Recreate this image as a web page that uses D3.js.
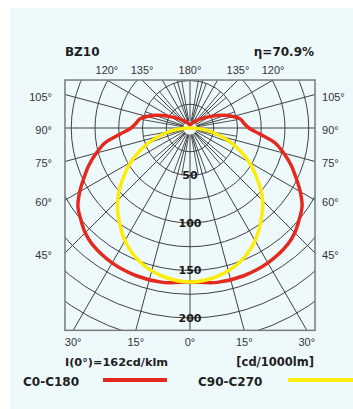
<!DOCTYPE html>
<html>
<head>
<meta charset="utf-8">
<script src="https://cdn.jsdelivr.net/npm/d3@7"></script>
<style>
  body { margin: 0; background: #fff; }
  svg { display: block; }
</style>
</head>
<body>
<svg id="chart" width="353" height="409"></svg>
<script>
// Luminous intensity distribution, cd/klm, by angle from nadir (degrees)
const redAngles = [0, 10, 20, 30, 40, 45, 50, 55, 60, 65, 70, 75, 80, 85, 90, 95, 100, 105, 110, 115, 120, 130, 140, 150, 160, 170, 180];
const redC0C180 = [162, 165, 165.5, 164, 160, 156, 150, 144, 134, 123, 113, 102, 91, 74, 62, 57, 54, 47, 39, 31, 24, 15, 10, 7, 5, 4, 3];
const yellowAngles = [0, 10, 20, 30, 40, 45, 50, 60, 70, 80, 85, 90];
const yellowC90C270 = [162, 159, 151, 137, 118, 108, 96, 72, 47, 23, 11, 0];

// Grid and labels
const ringValues = [25, 50, 75, 100, 125, 150, 175, 200, 225, 250];
const ringLabels = [50, 100, 150, 200];
const topAngleLabels = [120, 135, 180];
const sideAngleLabels = [105, 90, 75, 60, 45];
const bottomAngleLabels = [30, 15, 0];
const legendNames = ["C0-C180", "C90-C270"];
const titleLeft = "BZ10";
const titleRight = "\u03B7=70.9%";
const noteLeft = "I(0\u00B0)=162cd/klm";
const noteRight = "[cd/1000lm]";

const svg = d3.select("#chart");
const cx = 190, cy = 128;
const r = d3.scaleLinear().domain([0, 200]).range([0, 190]);

// frame extents in cd/klm units
const frameHalf = 131.6, frameTop = 50.5, frameBottom = 213;
const fx0 = cx - r(frameHalf), fx1 = cx + r(frameHalf);
const fy0 = cy - r(frameTop), fy1 = cy + r(frameBottom);

// background panel
svg.append("rect").attr("x", 10).attr("y", 8).attr("width", 343).attr("height", 401)
  .attr("fill", "#eef9fc");

svg.append("clipPath").attr("id", "frameClip")
  .append("rect").attr("x", fx0).attr("y", fy0).attr("width", fx1 - fx0).attr("height", fy1 - fy0);

const grid = svg.append("g").attr("clip-path", "url(#frameClip)")
  .append("g").attr("transform", `translate(${cx},${cy})`);

const rad = d => d * Math.PI / 180;
// angle from nadir -> screen vector
const px = (deg, v) => r(v) * Math.sin(rad(deg));
const py = (deg, v) => r(v) * Math.cos(rad(deg));

const gridColor = "#404040";

// rings
grid.selectAll("circle.ring").data(ringValues).join("circle")
  .attr("class", "ring").attr("r", d => r(d))
  .attr("fill", "none").attr("stroke", gridColor).attr("stroke-width", 1);

// radial lines: full every 15 deg, a finer 10 deg fan inside the 50 ring
const full = d3.range(0, 360, 15);
const fine = d3.range(0, 360, 10).filter(d => d % 15 !== 0);
grid.selectAll("line.full").data(full).join("line")
  .attr("x1", d => px(d, 7)).attr("y1", d => py(d, 7))
  .attr("x2", d => px(d, 300)).attr("y2", d => py(d, 300))
  .attr("stroke", gridColor).attr("stroke-width", 1);
grid.selectAll("line.fine").data(fine).join("line")
  .attr("x1", d => px(d, 7)).attr("y1", d => py(d, 7))
  .attr("x2", d => px(d, 50)).attr("y2", d => py(d, 50))
  .attr("stroke", gridColor).attr("stroke-width", 0.9);

// frame
svg.append("rect").attr("x", fx0).attr("y", fy0).attr("width", fx1 - fx0).attr("height", fy1 - fy0)
  .attr("fill", "none").attr("stroke", "#7a7a7a").attr("stroke-width", 1.5);

// ring labels
svg.selectAll("text.ring").data(ringLabels).join("text")
  .attr("x", cx).attr("y", d => cy + r(d)).attr("dy", "0.36em")
  .attr("text-anchor", "middle").attr("font-family", "DejaVu Sans").attr("font-weight", "bold")
  .attr("font-size", 11).attr("fill", "#1a1a1a").text(d => d);

// curves
const radial = d3.lineRadial().curve(d3.curveCatmullRomClosed.alpha(0.5))
  .angle(d => Math.PI - rad(d[0])).radius(d => r(d[1]));

const redPts = [];
for (let i = redAngles.length - 1; i > 0; i--) redPts.push([-redAngles[i], redC0C180[i]]);
for (let i = 0; i < redAngles.length - 1; i++) redPts.push([redAngles[i], redC0C180[i]]);

const yPts = [];
for (let i = yellowAngles.length - 1; i > 0; i--) yPts.push([-yellowAngles[i], yellowC90C270[i]]);
for (let i = 0; i < yellowAngles.length - 1; i++) yPts.push([yellowAngles[i], yellowC90C270[i]]);

const curves = svg.append("g").attr("transform", `translate(${cx},${cy})`);
curves.append("path").attr("d", radial(redPts)).attr("fill", "none")
  .attr("stroke", "#e42a1e").attr("stroke-width", 3.5);
curves.append("path").attr("d", radial(yPts)).attr("fill", "none")
  .attr("stroke", "#fbec0c").attr("stroke-width", 3.5);

// angle labels
const lab = (x, y, t, anchor) => svg.append("text").attr("x", x).attr("y", y)
  .attr("text-anchor", anchor).attr("font-family", "Liberation Sans, Arial, sans-serif")
  .attr("font-size", 11).attr("fill", "#333").text(t);

topAngleLabels.forEach(a => {
  const dx = r(frameTop) * Math.tan(rad(180 - a));
  lab(cx - dx, fy0 - 6, a + "\u00B0", "middle");
  if (a !== 180) lab(cx + dx, fy0 - 6, a + "\u00B0", "middle");
});
sideAngleLabels.forEach(a => {
  const y = cy + r(frameHalf) / Math.tan(rad(a)) + 6;
  lab(fx0 - 13, y, a + "\u00B0", "end");
  lab(fx1 + 7, y, a + "\u00B0", "start");
});
bottomAngleLabels.forEach(a => {
  const dx = r(frameBottom) * Math.tan(rad(a));
  lab(cx - dx, fy1 + 16, a + "\u00B0", "middle");
  if (a !== 0) lab(cx + dx, fy1 + 16, a + "\u00B0", "middle");
});

// titles and notes
const bold = (x, y, t, anchor, size) => svg.append("text").attr("x", x).attr("y", y)
  .attr("text-anchor", anchor).attr("font-family", "DejaVu Sans").attr("font-weight", "bold")
  .attr("font-size", size).attr("fill", "#1e1e1e").text(t);
bold(fx0, 56, titleLeft, "start", 12);
bold(fx1 - 1, 56, titleRight, "end", 12);
bold(fx0, 366, noteLeft, "start", 11.3);
bold(fx1 - 1, 366, noteRight, "end", 11.5);

// legend
bold(23, 386, legendNames[0], "start", 12);
svg.append("line").attr("x1", 103).attr("x2", 167).attr("y1", 380).attr("y2", 380)
  .attr("stroke", "#e42a1e").attr("stroke-width", 4);
bold(198, 386, legendNames[1], "start", 12);
svg.append("line").attr("x1", 288).attr("x2", 353).attr("y1", 380).attr("y2", 380)
  .attr("stroke", "#fbec0c").attr("stroke-width", 4);
</script>
</body>
</html>
